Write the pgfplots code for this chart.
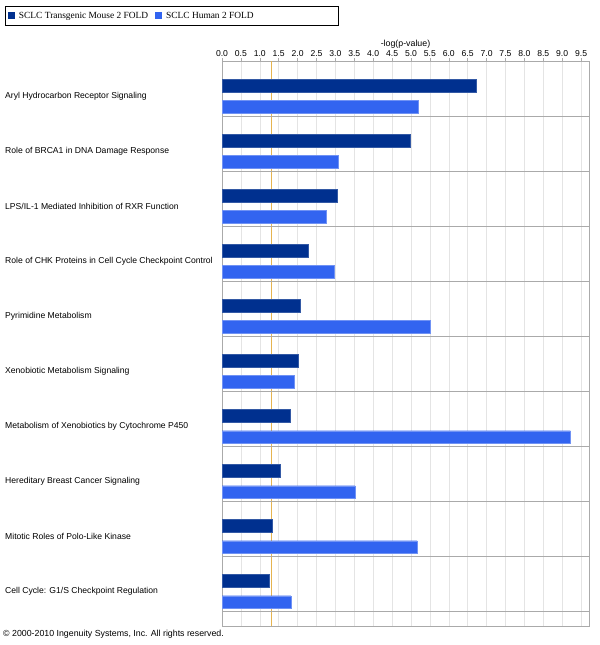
\documentclass[border=0pt]{standalone}
\usepackage{fontspec}
\setmainfont{Liberation Sans}
\newfontfamily\legfont{Liberation Serif}
\usepackage{pgfplots}
\pgfplotsset{compat=1.18}
\definecolor{mouse}{RGB}{0,48,143}
\definecolor{human}{RGB}{50,100,240}
\definecolor{thresh}{RGB}{230,180,80}
\definecolor{gridc}{RGB}{228,228,228}
\definecolor{sepc}{RGB}{170,170,170}

\begin{document}
\begin{tikzpicture}
\useasboundingbox (0,0) rectangle (600bp,645bp);
\begin{axis}[
    at={(222bp,19bp)}, anchor=south west,
    scale only axis, width=367bp, height=565bp,
    xmin=0, xmax=9.71, ymin=0, ymax=10.27,
    y dir=reverse,
    xbar, bar width=0.23,
    axis line style={sepc, line width=0.6bp},
    xtick={0,0.5,1,1.5,2,2.5,3,3.5,4,4.5,5,5.5,6,6.5,7,7.5,8,8.5,9,9.5},
    xtick pos=right, xticklabel pos=right,
    tick align=outside, major tick length=3bp,
    x tick style={sepc, line width=0.5bp},
    xticklabel style={font=\fontsize{8.6bp}{10bp}\selectfont, inner sep=1bp},
    /pgf/number format/.cd, fixed, fixed zerofill, precision=1, assume math mode=true, /pgfplots/.cd,
    xmajorgrids, grid style={gridc, line width=0.5bp},
    ytick={0.64,1.64,2.64,3.64,4.64,5.64,6.64,7.64,8.64,9.64},
    yticklabels={Aryl Hydrocarbon Receptor Signaling,
        Role of BRCA1 in DNA Damage Response,
        LPS/IL-1 Mediated Inhibition of RXR Function,
        Role of CHK Proteins in Cell Cycle Checkpoint Control,
        Pyrimidine Metabolism,
        Xenobiotic Metabolism Signaling,
        Metabolism of Xenobiotics by Cytochrome P450,
        Hereditary Breast Cancer Signaling,
        Mitotic Roles of Polo-Like Kinase,
        Cell Cycle: G1/S Checkpoint Regulation},
    y tick style={draw=none},
    yticklabel style={anchor=west, inner sep=0pt, xshift=-214bp, font=\fontsize{8.6bp}{10bp}\selectfont},
    extra y ticks={1,2,3,4,5,6,7,8,9,10},
    extra y tick labels={},
    extra y tick style={grid=major, major grid style={sepc, line width=0.6bp}, tick style={draw=none}},
    extra x ticks={1.3},
    extra x tick labels={},
    extra x tick style={grid=major, major grid style={thresh, line width=0.6bp}, tick style={draw=none}},
    title={-log(p-value)},
    title style={at={(0.5,1)}, anchor=center, yshift=11bp, font=\fontsize{8.8bp}{10bp}\selectfont},
    legend columns=3,
    legend style={at={(-0.591,1.0973)}, anchor=north west, draw=black, line width=0.8bp,
        font=\legfont\fontsize{9.4bp}{11bp}\selectfont, inner xsep=2.5bp, inner ysep=3.5bp,
        nodes={inner xsep=4bp},
        /tikz/every even column/.append style={column sep=3bp}},
    legend image code/.code={\fill[#1, draw=none] (0bp,-3.5bp) rectangle (7bp,3.5bp);},
]
\addplot[fill=mouse, draw=mouse!80!white, line width=0.4bp, bar shift=-0.195] coordinates {
    (6.72,0.64) (4.99,1.64) (3.06,2.64) (2.28,3.64) (2.06,4.64)
    (2.02,5.64) (1.80,6.64) (1.53,7.64) (1.34,8.64) (1.25,9.64)};
\addlegendentry{SCLC Transgenic Mouse 2 FOLD}
\addplot[fill=human, draw=human!70!white, line width=0.4bp, bar shift=0.195] coordinates {
    (5.20,0.64) (3.07,1.64) (2.77,2.64) (2.98,3.64) (5.51,4.64)
    (1.91,5.64) (9.22,6.64) (3.52,7.64) (5.16,8.64) (1.82,9.64)};
\addlegendentry{SCLC Human 2 FOLD}
\addlegendimage{empty legend}
\addlegendentry{\hspace*{67bp}}
\node[anchor=south west, inner sep=0pt, text=thresh, font=\fontsize{8.6bp}{10bp}\selectfont]
    at (axis cs:1.3,0) [yshift=0bp] {Threshold};
\end{axis}
\node[anchor=west, inner sep=0pt, font=\fontsize{8.8bp}{10bp}\selectfont]
    at (3bp,11bp) {\textcopyright\ 2000-2010 Ingenuity Systems, Inc. All rights reserved.};
\end{tikzpicture}
\end{document}
